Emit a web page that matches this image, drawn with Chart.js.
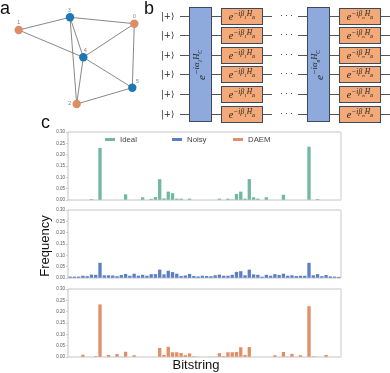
<!DOCTYPE html>
<html>
<head>
<meta charset="utf-8">
<script src="https://cdn.jsdelivr.net/npm/chart.js@4"></script>
<style>
  html, body { margin: 0; padding: 0; background: #fff; }
  #fig { position: relative; width: 390px; height: 373px; overflow: hidden; font-family: "Liberation Sans", sans-serif; }
  #fig canvas { position: absolute; }
  .abs { position: absolute; white-space: nowrap; }
  .letter { font-size: 18px; color: #111; line-height: 18px; }
  .biglabel { font-size: 13px; color: #111; line-height: 14px; transform: translate(-50%, -50%); }
  .wire { position: absolute; height: 1px; background: #555; }
  .gate { position: absolute; box-sizing: border-box; border: 1px solid #3c4a5c; display: flex; align-items: center; justify-content: center; font-family: "Liberation Serif", serif; font-style: italic; color: #222; white-space: nowrap; }
  .gate sup { font-size: 7.5px; line-height: 0; position: relative; top: -1px; vertical-align: super; }
  .gate sub { font-size: 5px; line-height: 0; vertical-align: sub; }
  .orange { background: #f4aa78; font-size: 10px; }
  .blue { background: #8eaadd; font-size: 11px; }
  .blue span { display: block; transform: rotate(-90deg); }
  .blue sup { font-size: 8.5px; }
  .blue sub { font-size: 5.5px; }
  .ket { position: absolute; font-family: "DejaVu Serif", serif; font-size: 8.5px; line-height: 10px; color: #222; }
  .dots { position: absolute; font-size: 9px; color: #333; letter-spacing: 2px; line-height: 10px; }
  .leg-patch { position: absolute; width: 10px; height: 3px; }
  .leg-text { position: absolute; font-size: 7.8px; line-height: 9px; color: #444; }
</style>
</head>
<body>
<div id="fig">
  <canvas id="graphChart" style="left:0;top:0"></canvas>
  <canvas id="idealChart" style="left:0;top:127px"></canvas>
  <canvas id="noisyChart" style="left:0;top:205px"></canvas>
  <canvas id="daemChart" style="left:0;top:284px"></canvas>
  <div class="abs letter" style="left:0;top:-1px">a</div>
  <div class="abs letter" style="left:144px;top:-1px">b</div>
  <div class="abs letter" style="left:41px;top:113px">c</div>
  <div class="abs biglabel" style="left:45px;top:246px;transform:translate(-50%,-50%) rotate(-90deg)">Frequency</div>
  <div class="abs biglabel" style="left:196px;top:365px">Bitstring</div>
  <div id="circuit"></div>
  <div id="legend"></div>
</div>
<script>
// --- panel a: graph ---
const nodeX = [134.3, 18.7, 76.7, 70, 83.3, 132.3];
const nodeY = [23.7, 30, 104, 17.3, 57.3, 87.7];
const nodeNames = ['0', '1', '2', '3', '4', '5'];
const edges = [[1,3],[3,0],[1,4],[3,4],[3,2],[4,2],[4,0],[4,5],[0,5],[2,5]];

// --- panel c: frequency per bitstring (64 bitstrings) ---
const bitstrings = [];
for (let i = 0; i < 64; i++) bitstrings.push(i.toString(2).padStart(6, '0'));
const idealValues = [
  0, 0, 0.001, 0.001, 0, 0.004, 0, 0.23, 0.001, 0.001, 0, 0.001, 0.001, 0.025, 0.001, 0,
  0, 0.012, 0.001, 0.005, 0.013, 0.092, 0.007, 0.037, 0.03, 0.006, 0.006, 0, 0.006, 0, 0.001, 0,
  0.001, 0.001, 0, 0.006, 0, 0.006, 0.003, 0.027, 0.037, 0.006, 0.092, 0.012, 0.006, 0.001, 0.012, 0,
  0, 0, 0.023, 0.001, 0, 0, 0.001, 0, 0.235, 0, 0.004, 0, 0, 0.001, 0, 0.001
];
const noisyValues = [
  0.006, 0.006, 0.006, 0.01, 0.008, 0.015, 0.014, 0.067, 0.012, 0.012, 0.011, 0.008, 0.013, 0.018, 0.01, 0.019,
  0.01, 0.014, 0.01, 0.017, 0.017, 0.037, 0.016, 0.032, 0.026, 0.019, 0.009, 0.011, 0.018, 0.009, 0.007, 0.01,
  0.009, 0.008, 0.012, 0.015, 0.01, 0.01, 0.014, 0.027, 0.03, 0.012, 0.037, 0.016, 0.014, 0.006, 0.014, 0.01,
  0.017, 0.013, 0.019, 0.01, 0.012, 0.009, 0.01, 0.01, 0.067, 0.012, 0.017, 0.008, 0.013, 0.007, 0.006, 0.005
];
const daemValues = [
  0, 0, 0, 0.01, 0, 0, 0.004, 0.232, 0, 0.009, 0, 0.013, 0.002, 0.023, 0, 0.008,
  0, 0, 0, 0, 0, 0.04, 0.009, 0.045, 0.021, 0.021, 0.018, 0.008, 0.016, 0.003, 0.002, 0,
  0, 0.002, 0.002, 0.017, 0.004, 0.021, 0.021, 0.022, 0.043, 0.009, 0.044, 0, 0, 0, 0, 0,
  0.008, 0.001, 0.022, 0.002, 0.014, 0, 0.008, 0, 0.224, 0.003, 0.002, 0, 0.009, 0, 0.001, 0
];
const yTicks = [0, 0.05, 0.1, 0.15, 0.2, 0.25, 0.3];
const seriesNames = ['Ideal', 'Noisy', 'DAEM'];
const seriesColors = ['#72b89e', '#5a7fc4', '#e18f68'];

// graph chart
const nodeLabels = {
  id: 'nodeLabels',
  afterDatasetsDraw(chart) {
    const offs = [[0,-7],[0,-7],[-7,0],[-0.5,-7],[2,-7],[5,-6]];
    const { ctx, scales } = chart;
    ctx.save();
    ctx.font = '5px "Liberation Sans"';
    ctx.fillStyle = '#777';
    ctx.textAlign = 'center';
    ctx.textBaseline = 'middle';
    nodeNames.forEach((n, i) => {
      ctx.fillText(n, scales.x.getPixelForValue(nodeX[i]) + offs[i][0], scales.y.getPixelForValue(nodeY[i]) + offs[i][1]);
    });
    ctx.restore();
  }
};

const graphSets = edges.map(e => ({
  data: e.map(n => ({ x: nodeX[n], y: nodeY[n] })),
  showLine: true,
  borderColor: '#7a7a7a',
  borderWidth: 0.9,
  pointRadius: 0,
  order: 2
}));
graphSets.push({
  data: nodeNames.map((n, i) => ({ x: nodeX[i], y: nodeY[i] })),
  showLine: false,
  pointRadius: 4.2,
  pointBorderWidth: 0,
  pointBackgroundColor: nodeNames.map((n, i) => (i < 3 ? '#dd8c64' : '#1f77b4')),
  order: 1
});
document.getElementById('graphChart').width = 160;
document.getElementById('graphChart').height = 120;
new Chart(document.getElementById('graphChart'), {
  type: 'scatter',
  data: { datasets: graphSets },
  options: {
    responsive: false,
    animation: false,
    layout: { padding: 0, autoPadding: false },
    plugins: { legend: { display: false }, tooltip: { enabled: false } },
    scales: {
      x: { display: false, min: 0, max: 160 },
      y: { display: false, min: 0, max: 120, reverse: true }
    }
  },
  plugins: [nodeLabels]
});

// spines all round the plot area
const frame = {
  id: 'frame',
  beforeDatasetsDraw(chart) {
    const { ctx, chartArea: a } = chart;
    ctx.save();
    ctx.strokeStyle = '#c4c4c4';
    ctx.lineWidth = 1;
    ctx.beginPath();
    ctx.moveTo(a.left, a.top);
    ctx.lineTo(a.right, a.top);
    ctx.moveTo(a.left, a.bottom);
    ctx.lineTo(a.right, a.bottom);
    ctx.moveTo(a.left, a.top);
    ctx.lineTo(a.left, a.bottom);
    ctx.stroke();
    ctx.strokeStyle = '#dedede';
    ctx.lineWidth = 1.6;
    ctx.beginPath();
    ctx.moveTo(a.right, a.top);
    ctx.lineTo(a.right, a.bottom);
    ctx.stroke();
    ctx.restore();
  }
};

function freqChart(id, name, values, color) {
  const cv = document.getElementById(id);
  cv.width = 345;
  cv.height = 77;
  return new Chart(cv, {
    type: 'bar',
    data: {
      labels: bitstrings,
      datasets: [{ label: name, data: values, backgroundColor: color, barPercentage: 0.78, categoryPercentage: 1 }]
    },
    options: {
      responsive: false,
      animation: false,
      layout: { padding: { left: 36, right: 4, top: 5, bottom: 4 } },
      plugins: { legend: { display: false }, tooltip: { enabled: false } },
      scales: {
        x: { display: false },
        y: {
          min: 0,
          max: 0.3,
          afterFit: s => { s.width = 32; },
          afterBuildTicks: s => { s.ticks = yTicks.map(v => ({ value: v })); },
          grid: { drawOnChartArea: false, tickLength: 2, color: '#999', lineWidth: 0.5 },
          border: { display: false },
          ticks: {
            autoSkip: false,
            padding: 1,
            color: '#555',
            font: { size: 4.5, family: 'Liberation Sans' },
            callback: v => v.toFixed(2)
          }
        }
      }
    },
    plugins: [frame]
  });
}

freqChart('idealChart', seriesNames[0], idealValues, seriesColors[0]);
freqChart('noisyChart', seriesNames[1], noisyValues, seriesColors[1]);
freqChart('daemChart', seriesNames[2], daemValues, seriesColors[2]);

// legend sits inside the top panel
const legendX = [105, 172, 233];
let legendHtml = '';
seriesNames.forEach((n, i) => {
  legendHtml += `<div class="leg-patch" style="left:${legendX[i]}px;top:138px;background:${seriesColors[i]}"></div>`;
  legendHtml += `<div class="leg-text" style="left:${legendX[i] + 15}px;top:135px">${n}</div>`;
});
document.getElementById('legend').innerHTML = legendHtml;

// --- panel b: circuit diagram ---
const rowY = [15.7, 35.3, 54.7, 74.3, 94.3, 114];
const wireSegs = [[180,190],[211,221],[262,272],[298,308],[329,339],[380,390]];
let html = '';
rowY.forEach(y => {
  const top = Math.round(y);
  wireSegs.forEach(s => { html += `<div class="wire" style="left:${s[0]}px;width:${s[1]-s[0]}px;top:${top}px"></div>`; });
  html += `<div class="ket" style="left:161px;top:${top-5}px">|+⟩</div>`;
  html += `<div class="dots" style="left:280px;top:${top-6}px">···</div>`;
  html += `<div class="gate orange" style="left:221px;width:42px;top:${top-8}px;height:17px">e<sup>−iβ<sub>1</sub>H<sub>B</sub></sup></div>`;
  html += `<div class="gate orange" style="left:339px;width:42px;top:${top-8}px;height:17px">e<sup>−iβ<sub>n</sub>H<sub>B</sub></sup></div>`;
});
html += `<div class="gate blue" style="left:189px;width:23px;top:7px;height:115px"><span>e<sup>−iα<sub>1</sub>H<sub>C</sub></sup></span></div>`;
html += `<div class="gate blue" style="left:307px;width:23px;top:7px;height:115px"><span>e<sup>−iα<sub>n</sub>H<sub>C</sub></sup></span></div>`;
document.getElementById('circuit').innerHTML = html;
</script>
</body>
</html>
